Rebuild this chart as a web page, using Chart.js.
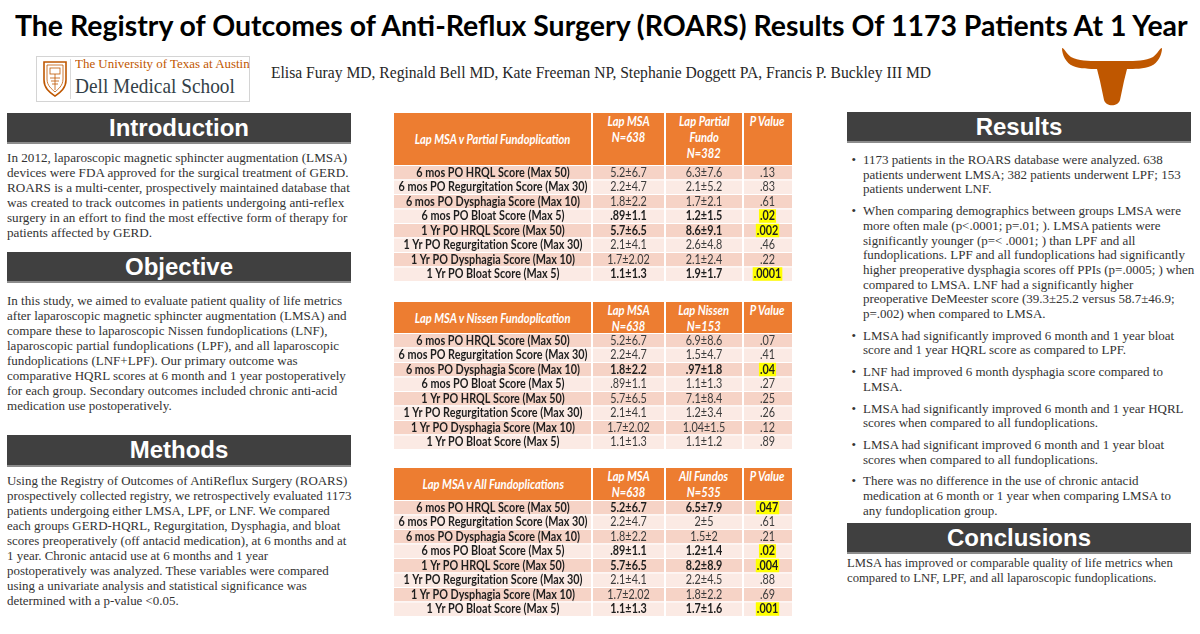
<!DOCTYPE html>
<html>
<head>
<meta charset="utf-8">
<script src="https://cdn.jsdelivr.net/npm/chart.js@4.4.1/dist/chart.umd.min.js"></script>
<style>
html,body{margin:0;padding:0;background:#fff;}
body{width:1200px;height:634px;position:relative;overflow:hidden;font-variant-ligatures:none;}
.abs{position:absolute;}
.fitline{display:inline-block;white-space:nowrap;transform-origin:0 0;}
.bar{position:absolute;background:#404040;border-bottom:2px solid #8c8c8c;box-sizing:border-box;color:#fff;
 font:bold 24px "Liberation Sans",Arial,sans-serif;text-align:center;}
.txt{position:absolute;font:13.5px "Liberation Serif","Times New Roman",serif;color:#333;line-height:15.1px;transform-origin:0 0;white-space:nowrap;}
#results{line-height:14.7px;}
#conclusions{line-height:14.8px;}
.txt span{display:inline-block;}
.para{position:relative;}
.bul{position:absolute;left:-12px;top:0;}
.thead{position:absolute;background:#ED7D31;color:#fff;font:italic bold 13px Lato,"Open Sans",sans-serif;}
.hc{position:absolute;top:0;bottom:0;text-align:center;line-height:16px;white-space:nowrap;}
.hc span{display:inline-block;transform:scaleX(.86);}
.vsep{position:absolute;top:0;bottom:0;width:2px;background:#fff;}
canvas{position:absolute;}
</style>
</head>
<body>
<script>
// ---------- DATA ----------
const rowLabels = [
  "6 mos PO HRQL Score (Max 50)",
  "6 mos PO Regurgitation Score (Max 30)",
  "6 mos PO Dysphagia Score (Max 10)",
  "6 mos PO Bloat Score (Max 5)",
  "1 Yr PO HRQL Score (Max 50)",
  "1 Yr PO Regurgitation Score (Max 30)",
  "1 Yr PO Dysphagia Score (Max 10)",
  "1 Yr PO Bloat Score (Max 5)"
];
const lmsaValues = ["5.2±6.7","2.2±4.7","1.8±2.2",".89±1.1","5.7±6.5","2.1±4.1","1.7±2.02","1.1±1.3"];

const partialTitle = "Lap MSA v Partial Fundoplication";
const partialHeads = [["Lap MSA","N=638"],["Lap Partial","Fundo","N=382"],["P Value"]];
const partialValues = ["6.3±7.6","2.1±5.2","1.7±2.1","1.2±1.5","8.6±9.1","2.6±4.8","2.1±2.4","1.9±1.7"];
const partialP = [".13",".83",".61",".02",".002",".46",".22",".0001"];

const nissenTitle = "Lap MSA v Nissen Fundoplication";
const nissenHeads = [["Lap MSA","N=638"],["Lap Nissen","N=153"],["P Value"]];
const nissenValues = ["6.9±8.6","1.5±4.7",".97±1.8","1.1±1.3","7.1±8.4","1.2±3.4","1.04±1.5","1.1±1.2"];
const nissenP = [".07",".41",".04",".27",".25",".26",".12",".89"];

const allTitle = "Lap MSA v All Fundoplications";
const allHeads = [["Lap MSA","N=638"],["All Fundos","N=535"],["P Value"]];
const allValues = ["6.5±7.9","2±5","1.5±2","1.2±1.4","8.2±8.9","2.2±4.5","1.8±2.2","1.7±1.6"];
const allP = [".047",".61",".21",".02",".004",".88",".69",".001"];

const titleText = "The Registry of Outcomes of Anti-Reflux Surgery (ROARS) Results Of 1173 Patients At 1 Year";
const authorsText = "Elisa Furay MD, Reginald Bell MD, Kate Freeman NP, Stephanie Doggett PA, Francis P. Buckley III MD";

const introLines = [
  "In 2012, laparoscopic magnetic sphincter augmentation (LMSA)",
  "devices were FDA approved for the surgical treatment of  GERD.",
  "ROARS is a multi-center, prospectively maintained database that",
  "was created to track outcomes in patients undergoing anti-reflex",
  "surgery in an effort to find the most effective form of therapy for",
  "patients affected by GERD."
];
const objectiveLines = [
  "In this study, we aimed to evaluate patient quality of life metrics",
  "after laparoscopic magnetic sphincter augmentation (LMSA) and",
  "compare these to laparoscopic Nissen fundoplications (LNF),",
  "laparoscopic partial fundoplications (LPF), and all laparoscopic",
  "fundoplications (LNF+LPF). Our primary outcome was",
  "comparative HQRL scores at 6 month and 1 year postoperatively",
  "for each group. Secondary outcomes included chronic anti-acid",
  "medication use postoperatively."
];
const methodsLines = [
  "Using the Registry of Outcomes of AntiReflux Surgery (ROARS)",
  "prospectively collected registry, we retrospectively evaluated 1173",
  "patients undergoing either LMSA, LPF, or LNF. We compared",
  "each groups GERD-HQRL, Regurgitation, Dysphagia, and bloat",
  "scores preoperatively (off antacid medication), at 6 months and at",
  "1 year. Chronic antacid use at 6 months and 1 year",
  "postoperatively was analyzed. These variables were compared",
  "using a univariate analysis and statistical significance was",
  "determined with a p-value <0.05."
];
const resultsBullets = [
  ["1173 patients in the ROARS database were analyzed. 638",
   "patients underwent LMSA; 382 patients underwent LPF; 153",
   "patients underwent LNF."],
  ["When comparing demographics between groups LMSA were",
   "more often male (p<.0001; p=.01; ). LMSA patients were",
   "significantly younger (p=< .0001; ) than LPF and all",
   "fundoplications. LPF and all fundoplications had significantly",
   "higher preoperative dysphagia scores off  PPIs (p=.0005; ) when",
   "compared to LMSA. LNF had a significantly higher",
   "preoperative DeMeester score (39.3±25.2 versus 58.7±46.9;",
   "p=.002) when compared to LMSA."],
  ["LMSA had significantly improved 6 month and 1 year bloat",
   "score and 1 year HQRL score  as compared to LPF."],
  ["LNF had improved 6 month dysphagia score compared to",
   "LMSA."],
  ["LMSA had significantly improved 6 month and 1 year HQRL",
   "scores when compared to all fundoplications."],
  ["LMSA had significant improved 6 month and 1 year bloat",
   "scores when compared to all fundoplications."],
  ["There was no difference in the use of chronic antacid",
   "medication at 6 month or 1 year when comparing LMSA to",
   "any fundoplication group."]
];
const conclusionLines = [
  "LMSA has improved or comparable quality of life metrics when",
  "compared to LNF, LPF, and all laparoscopic fundoplications."
];
</script>

<!-- Title -->
<div id="title" class="abs fitline" style="left:15px;top:6px;font:bold 29px Lato,'Open Sans',sans-serif;color:#000;line-height:38px;">x</div>

<!-- UT logo -->
<div class="abs" style="left:36px;top:56px;width:214px;height:46px;border:1px solid #d4d4d4;box-sizing:border-box;"></div>
<svg class="abs" style="left:42px;top:60px" width="26" height="38" viewBox="0 0 26 38">
  <path d="M2 2 L24 2 L24 20 C24 29 17 33 13 36 C9 33 2 29 2 20 Z" fill="none" stroke="#BF5700" stroke-width="1.6"/>
  <path d="M5 5 L21 5 L21 19 C21 26 16 29 13 32 C10 29 5 26 5 19 Z" fill="none" stroke="#BF5700" stroke-width="0.8"/>
  <rect x="8" y="8" width="10" height="6" fill="none" stroke="#BF5700" stroke-width="0.8"/>
  <path d="M8 18 L18 18 M9 21 L17 21 M10 24 L16 24 M13 14 L13 30" stroke="#BF5700" stroke-width="0.8"/>
</svg>
<div class="abs" style="left:70px;top:59px;width:1px;height:40px;background:#d9d9d9;"></div>
<div id="utname" class="abs fitline" style="left:75px;top:57px;font:12.5px 'Liberation Serif',serif;color:#BF5700;line-height:15px;">The University of Texas at Austin</div>
<div id="dell" class="abs fitline" style="left:75px;top:73px;font:21px 'Liberation Serif',serif;color:#333F48;line-height:26px;">Dell Medical School</div>

<!-- Authors -->
<div id="authors" class="abs fitline" style="left:271px;top:63px;font:16px 'Liberation Serif',serif;color:#262626;line-height:20px;">x</div>

<!-- Longhorn -->
<svg class="abs" style="left:1062px;top:48px" width="100" height="58" viewBox="0 0 100 58">
  <path fill="#BF5700" d="M0 0 C2 0 4 5 9 9 C16 13 27 13 36 13 L64 13 C73 13 84 13 91 9 C96 5 98 0 100 0
    C100 7 96 15 89 18 C82 21 72 21 65 21 L62 33 L58 52 C56 59 44 59 42 52 L38 33 L35 21
    C28 21 18 21 11 18 C4 15 0 7 0 0 Z"/>
</svg>

<!-- Section bars -->
<div class="bar" style="left:7px;top:113px;width:344px;height:31px;line-height:29px;">Introduction</div>
<div class="bar" style="left:7px;top:252px;width:344px;height:31px;line-height:29px;">Objective</div>
<div class="bar" style="left:7px;top:435px;width:344px;height:32px;line-height:30px;">Methods</div>
<div class="bar" style="left:847px;top:112px;width:344px;height:31px;line-height:29px;">Results</div>
<div class="bar" style="left:847px;top:523px;width:344px;height:31px;line-height:29px;">Conclusions</div>

<div id="intro" class="txt" style="left:7px;top:149.5px;"></div>
<div id="objective" class="txt" style="left:7px;top:292.5px;"></div>
<div id="methods" class="txt" style="left:7px;top:472.5px;"></div>
<div id="results" class="txt" style="left:863px;top:153px;"></div>
<div id="conclusions" class="txt" style="left:847px;top:556px;"></div>

<!-- Tables -->
<div id="h1" class="thead" style="left:394px;top:113px;width:398px;height:52px;"></div>
<canvas id="t1" width="398" height="116" style="left:394px;top:165px;width:398px;height:116px;"></canvas>
<div id="h2" class="thead" style="left:394px;top:302px;width:398px;height:31px;"></div>
<canvas id="t2" width="398" height="116" style="left:394px;top:333px;width:398px;height:116px;"></canvas>
<div id="h3" class="thead" style="left:394px;top:468px;width:398px;height:32px;"></div>
<canvas id="t3" width="398" height="116" style="left:394px;top:500px;width:398px;height:116px;"></canvas>

<script>
// ---------- layout helpers ----------
const colEdges = [0, 198, 271, 349, 398];
const bandColors = ["#F6D3C6", "#FBEAE4"];

function fitLine(id, text, width) {
  const el = document.getElementById(id);
  if (text != null) el.textContent = text;
  const w = el.offsetWidth;
  el.style.transform = "scaleX(" + (width / w) + ")";
}
function fillBlock(id, lines, refIndex, width) {
  const el = document.getElementById(id);
  const spans = [];
  lines.forEach(t => {
    const d = document.createElement("div");
    const s = document.createElement("span");
    s.textContent = t;
    d.appendChild(s);
    el.appendChild(d);
    spans.push(s);
  });
  const k = width / spans[refIndex].offsetWidth;
  el.style.transform = "scaleX(" + k + ")";
}
function fillBullets(id, bullets, width) {
  const el = document.getElementById(id);
  let ref = null;
  bullets.forEach((lines, bi) => {
    const p = document.createElement("div");
    p.className = "para";
    if (bi > 0) p.style.marginTop = "7px";
    const b = document.createElement("div");
    b.className = "bul";
    b.textContent = "•";
    p.appendChild(b);
    lines.forEach(t => {
      const d = document.createElement("div");
      const s = document.createElement("span");
      s.textContent = t;
      d.appendChild(s);
      p.appendChild(d);
      if (!ref) ref = s;
    });
    el.appendChild(p);
  });
  el.style.transform = "scaleX(" + (width / ref.offsetWidth) + ")";
}

fitLine("title", titleText, 1173);
fitLine("utname", null, 175);
fitLine("dell", null, 160);
fitLine("authors", authorsText, 660);
fillBlock("intro", introLines, 0, 340);
fillBlock("objective", objectiveLines, 1, 340);
fillBlock("methods", methodsLines, 0, 340);
fillBullets("results", resultsBullets, 300);
fillBlock("conclusions", conclusionLines, 0, 326);

function buildHeader(id, title, heads) {
  const h = document.getElementById(id);
  const cells = [[title]].concat(heads);
  cells.forEach((lines, i) => {
    const c = document.createElement("div");
    c.className = "hc";
    c.style.left = colEdges[i] + "px";
    c.style.width = (colEdges[i + 1] - colEdges[i]) + "px";
    if (i === 0) {
      c.style.display = "flex";
      c.style.alignItems = "center";
      c.style.justifyContent = "center";
    }
    c.innerHTML = lines.map(t => "<span>" + t + "</span>").join("<br>");
    h.appendChild(c);
    if (i > 0) {
      const v = document.createElement("div");
      v.className = "vsep";
      v.style.left = (colEdges[i] - 1) + "px";
      h.appendChild(v);
    }
  });
}

// ---------- Chart.js tables ----------
const cellFont = "12.5px Lato, 'Open Sans', sans-serif";
function makeTable(canvasId, compValues, pValues) {
  const cols = [rowLabels, lmsaValues, compValues, pValues];
  const sig = pValues.map(p => parseFloat(p) < 0.05);
  const cellText = {
    id: "cellText",
    afterDatasetsDraw(chart) {
      const ctx = chart.ctx;
      ctx.save();
      ctx.font = "bold " + cellFont;
      const sx = 189 / ctx.measureText(rowLabels[1]).width;
      ctx.textAlign = "center";
      ctx.textBaseline = "middle";
      chart.data.datasets.forEach((ds, ci) => {
        const meta = chart.getDatasetMeta(ci);
        meta.data.forEach((el, ri) => {
          const cx = (el.x + el.base) / 2;
          const cy = el.y + 0.5;
          const text = cols[ci][ri];
          const bold = ci === 0 || sig[ri];
          ctx.font = (bold ? "bold " : "") + cellFont;
          const tw = ctx.measureText(text).width * sx;
          if (ci === 3 && sig[ri]) {
            ctx.fillStyle = "#FFFF00";
            ctx.fillRect(cx - tw / 2 - 1, el.y - 6.5, tw + 2, 13.5);
          }
          ctx.fillStyle = bold ? "#1e1e1e" : "#3c3c3c";
          ctx.save();
          ctx.translate(cx, cy);
          ctx.scale(sx, 1);
          ctx.fillText(text, 0, 0);
          ctx.restore();
        });
      });
      ctx.restore();
    }
  };
  const datasets = cols.map((c, ci) => ({
    data: rowLabels.map(() => colEdges[ci + 1] - colEdges[ci]),
    backgroundColor: (context) => bandColors[context.dataIndex % 2],
    borderColor: "#ffffff",
    borderWidth: { top: 1, bottom: 0, left: ci === 0 ? 0 : 1, right: ci === 3 ? 0 : 1 },
    borderSkipped: false,
    inflateAmount: 0,
    barPercentage: 1,
    categoryPercentage: 1
  }));
  new Chart(document.getElementById(canvasId), {
    type: "bar",
    data: { labels: rowLabels, datasets },
    options: {
      indexAxis: "y",
      responsive: false,
      animation: false,
      devicePixelRatio: 1,
      events: [],
      layout: { padding: 0 },
      plugins: { legend: { display: false }, tooltip: { enabled: false } },
      scales: {
        x: { type: "linear", stacked: true, display: false, min: 0, max: colEdges[4] },
        y: { stacked: true, display: false }
      }
    },
    plugins: [cellText]
  });
}

buildHeader("h1", partialTitle, partialHeads);
buildHeader("h2", nissenTitle, nissenHeads);
buildHeader("h3", allTitle, allHeads);
makeTable("t1", partialValues, partialP);
makeTable("t2", nissenValues, nissenP);
makeTable("t3", allValues, allP);
</script>
</body>
</html>
